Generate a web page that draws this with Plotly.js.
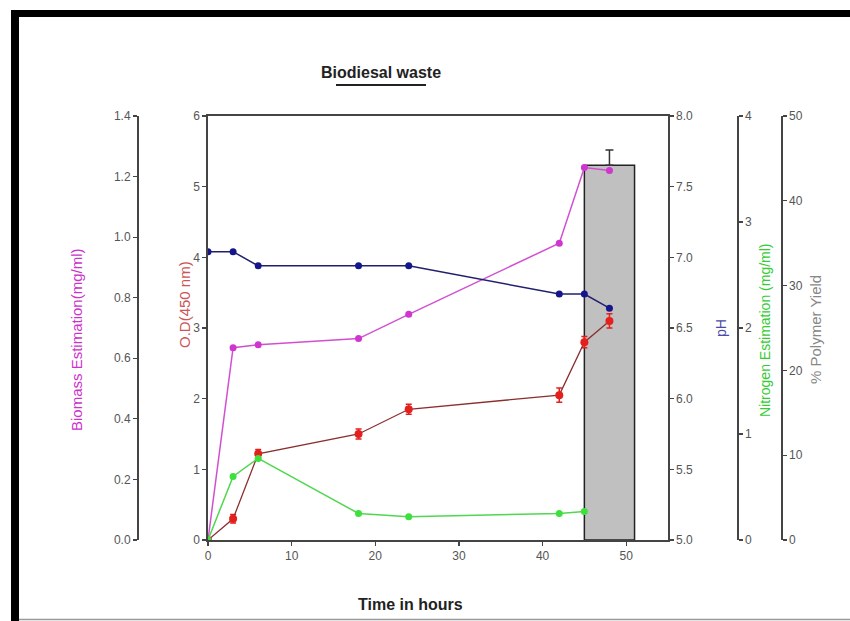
<!DOCTYPE html>
<html>
<head>
<meta charset="utf-8">
<script src="https://cdn.plot.ly/plotly-3.0.1.min.js"></script>
<style>
  html, body { margin: 0; padding: 0; background: #ffffff; }
  #chart { width: 850px; height: 621px; }
</style>
</head>
<body>
<div id="chart"></div>
<script>
// Sampling times (hours)
const hours = [0, 3, 6, 18, 24, 42, 45, 48];
// Biomass estimation (mg/ml)
const biomass = [0, 0.635, 0.645, 0.665, 0.745, 0.98, 1.23, 1.22];
// Optical density at 450 nm, with error
const opticalDensity = [0, 0.3, 1.22, 1.5, 1.85, 2.05, 2.8, 3.1];
const odError = [0.03, 0.06, 0.06, 0.07, 0.07, 0.1, 0.08, 0.1];
// pH of the medium
const pH = [7.04, 7.04, 6.94, 6.94, 6.94, 6.74, 6.74, 6.64];
// Nitrogen estimation (mg/ml)
const nitrogenHours = [0, 3, 6, 18, 24, 42, 45];
const nitrogen = [0, 0.6, 0.77, 0.25, 0.22, 0.25, 0.27];
// Polymer yield (%) at harvest
const yieldHour = [48];
const polymerYield = [44.2];
const yieldError = [1.8];

const W = 850, H = 621;
const px = x => x / W;
const py = y => 1 - y / H;

const FONT = 'Liberation Sans Narrow, Arial Narrow, Liberation Sans, Arial, sans-serif';
const tickFont = { family: FONT, size: 12, color: '#555555' };
const yDomain = [py(540), py(116)];

const traces = [
  {
    type: 'bar', x: yieldHour, y: polymerYield, width: 6, yaxis: 'y', xaxis: 'x',
    marker: { color: '#c0c0c0', line: { color: '#222222', width: 1.5 } },
    error_y: { type: 'data', symmetric: false, array: yieldError, arrayminus: [0],
               color: '#333333', thickness: 1.5, width: 4 },
    hoverinfo: 'skip'
  },
  {
    type: 'scatter', mode: 'lines+markers', x: hours, y: opticalDensity, yaxis: 'y2', xaxis: 'x',
    line: { color: '#8a2e2e', width: 1.3 },
    marker: { color: '#e3201b', size: 8 },
    error_y: { type: 'data', array: odError, color: '#e3201b', thickness: 1.5, width: 3 }
  },
  {
    type: 'scatter', mode: 'lines+markers', x: hours, y: biomass, yaxis: 'y3', xaxis: 'x',
    line: { color: '#d24fd2', width: 1.5 },
    marker: { color: '#cf36cf', size: 7 }
  },
  {
    type: 'scatter', mode: 'lines+markers', x: hours, y: pH, yaxis: 'y4', xaxis: 'x',
    line: { color: '#20206e', width: 1.5 },
    marker: { color: '#16168c', size: 7 }
  },
  {
    type: 'scatter', mode: 'lines+markers', x: nitrogenHours, y: nitrogen, yaxis: 'y5', xaxis: 'x',
    line: { color: '#4fd84f', width: 1.5 },
    marker: { color: '#3ee03e', size: 7 }
  }
];

const axisBase = {
  showgrid: false, zeroline: false, showline: true,
  linecolor: '#444444', linewidth: 1.6,
  ticks: 'outside', ticklen: 4, tickwidth: 1.2, tickcolor: '#444444',
  tickfont: tickFont, domain: yDomain, fixedrange: true
};

function label(text, x, y, angle, font) {
  return { text: text, x: px(x), y: py(y), xref: 'paper', yref: 'paper',
           xanchor: 'center', yanchor: 'middle', textangle: angle,
           showarrow: false, font: font };
}

const layout = {
  width: W, height: H,
  margin: { l: 0, r: 0, t: 0, b: 0 },
  paper_bgcolor: '#ffffff', plot_bgcolor: 'rgba(0,0,0,0)',
  showlegend: false,
  xaxis: {
    domain: [px(208), px(668)], range: [0, 55], anchor: 'y2',
    tickvals: [0, 10, 20, 30, 40, 50],
    showgrid: false, zeroline: false, showline: true, mirror: true,
    linecolor: '#444444', linewidth: 1.6,
    ticks: 'outside', ticklen: 4, tickwidth: 1.2, tickcolor: '#444444',
    tickfont: tickFont, fixedrange: true
  },
  // % polymer yield (outer right)
  yaxis: Object.assign({}, axisBase, {
    range: [0, 50], dtick: 10, anchor: 'free', position: px(781), side: 'right'
  }),
  // O.D (450 nm), left spine of the plot
  yaxis2: Object.assign({}, axisBase, {
    range: [0, 6], dtick: 1, overlaying: 'y', anchor: 'x', side: 'left'
  }),
  // Biomass (outer left)
  yaxis3: Object.assign({}, axisBase, {
    range: [0, 1.4], dtick: 0.2, tickformat: '.1f', overlaying: 'y',
    anchor: 'free', position: px(137), side: 'left'
  }),
  // pH, right spine of the plot
  yaxis4: Object.assign({}, axisBase, {
    range: [5, 8], dtick: 0.5, tickformat: '.1f', overlaying: 'y', anchor: 'x', side: 'right'
  }),
  // Nitrogen estimation
  yaxis5: Object.assign({}, axisBase, {
    range: [0, 4], dtick: 1, overlaying: 'y', anchor: 'free', position: px(737), side: 'right'
  }),
  annotations: [
    label('Biodiesal waste', 381, 73, 0, { family: FONT, size: 16, color: '#222222', weight: 'bold' }),
    label('Time in hours', 410, 604, 0, { family: 'Liberation Sans, Arial, sans-serif', size: 16, color: '#222222', weight: 'bold' }),
    label('Biomass Estimation(mg/ml)', 76, 340, -90, { family: FONT, size: 15, color: '#cc33cc' }),
    label('O.D(450 nm)', 184, 305, -90, { family: FONT, size: 15, color: '#cc5555' }),
    label('pH', 721, 328, -90, { family: FONT, size: 14, color: '#4a4aa8' }),
    label('Nitrogen Estimation (mg/ml)', 765, 330, -90, { family: FONT, size: 14, color: '#33cc33' }),
    label('% Polymer Yield', 815, 330, -90, { family: FONT, size: 15, color: '#888888' })
  ],
  shapes: [
    // outer frame: heavy top and left edges, thin bottom edge
    { type: 'rect', xref: 'paper', yref: 'paper', x0: px(11), x1: 1, y0: py(17), y1: py(10),
      fillcolor: '#000000', line: { width: 0 } },
    { type: 'rect', xref: 'paper', yref: 'paper', x0: px(11), x1: px(19), y0: py(621), y1: py(10),
      fillcolor: '#000000', line: { width: 0 } },
    { type: 'line', xref: 'paper', yref: 'paper', x0: px(19), x1: 1, y0: py(619.5), y1: py(619.5),
      line: { color: '#999999', width: 1.5 } },
    // title underline
    { type: 'line', xref: 'paper', yref: 'paper', x0: px(336), x1: px(426), y0: py(85), y1: py(85),
      line: { color: '#222222', width: 2 } }
  ]
};

Plotly.newPlot('chart', traces, layout, { displayModeBar: false, staticPlot: true });
</script>
</body>
</html>
